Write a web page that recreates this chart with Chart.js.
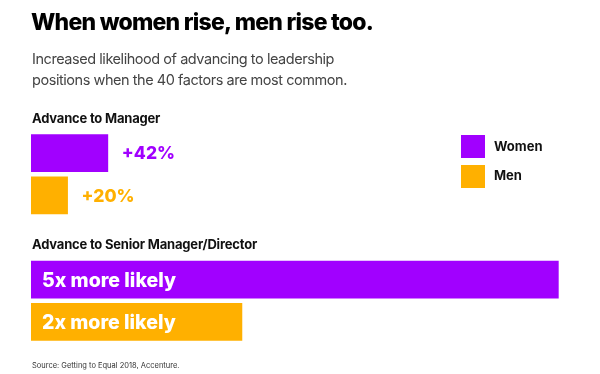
<!DOCTYPE html>
<html>
<head>
<meta charset="utf-8">
<script src="https://cdn.jsdelivr.net/npm/chart.js@4.4.1/dist/chart.umd.min.js"></script>
<style>
  html, body { margin: 0; padding: 0; background: #fff; }
  #wrap { position: relative; width: 600px; height: 374px; overflow: hidden; font-family: Inter, "Noto Sans", sans-serif; }
  #c { position: absolute; left: 0; top: 0; }
  .t { position: absolute; white-space: nowrap; }
  #title { left: 31px; top: 8px; font-size: 23px; font-weight: 800; color: #000; letter-spacing: -0.75px; }
  #sub { left: 32px; top: 48px; font-size: 14.5px; line-height: 21px; color: #444; letter-spacing: -0.45px; }
  .head { left: 32px; font-size: 13px; font-weight: 700; color: #111; letter-spacing: -0.2px; }
  .sw { position: absolute; left: 461px; width: 24px; height: 23px; }
  .lg { left: 494px; font-size: 13px; font-weight: 700; color: #111; }
  #src { left: 32px; top: 361px; font-size: 7.5px; color: #333; }
</style>
</head>
<body>
<div id="wrap">
  <canvas id="c" width="600" height="374"></canvas>
  <div class="t" id="title">When women rise, men rise too.</div>
  <div class="t" id="sub">Increased likelihood of advancing to leadership<br>positions when the 40 factors are most common.</div>
  <div class="t head" id="h0" style="top:110px"></div>
  <div class="t head" id="h1" style="top:236px"></div>
  <div class="sw" id="sw0" style="top:135px"></div>
  <div class="sw" id="sw1" style="top:165px"></div>
  <div class="t lg" id="lg0" style="top:138px"></div>
  <div class="t lg" id="lg1" style="top:167px"></div>
  <div class="t" id="src">Source: Getting to Equal 2018, Accenture.</div>
</div>
<script>
const groups = ['Advance to Manager', 'Advance to Senior Manager/Director'];
const series = ['Women', 'Men'];
const managerPct = [42, 20];          // Women, Men
const seniorMult = [5, 2];            // Women, Men
const managerLabels = ['+42%', '+20%'];
const seniorLabels = ['5x more likely', '2x more likely'];
const colors = ['#A100FF', '#FFB000'];

// text for headings and legend
document.getElementById('h0').textContent = groups[0];
document.getElementById('h1').textContent = groups[1];
series.forEach((s, i) => {
  document.getElementById('lg' + i).textContent = s;
  document.getElementById('sw' + i).style.background = colors[i];
});

const categories = [
  groups[0] + ' – ' + series[0], groups[0] + ' – ' + series[1], '',
  groups[1] + ' – ' + series[0], groups[1] + ' – ' + series[1]
];

const labelPlugin = {
  id: 'barLabels',
  afterDatasetsDraw(chart) {
    const ctx = chart.ctx;
    ctx.save();
    ctx.textBaseline = 'middle';
    // Manager: label to the right of bar, coloured
    const m0 = chart.getDatasetMeta(0);
    ctx.font = '800 17.5px Inter, "Noto Sans", sans-serif';
    managerLabels.forEach((txt, i) => {
      const el = m0.data[i];
      ctx.fillStyle = colors[i];
      ctx.fillText(txt, el.x + 14, el.y + 1);
    });
    // Senior: label inside bar, white
    const m1 = chart.getDatasetMeta(1);
    ctx.font = '800 19.5px Inter, "Noto Sans", sans-serif';
    seniorLabels.forEach((txt, i) => {
      const el = m1.data[i + 3];
      ctx.fillStyle = '#fff';
      ctx.fillText(txt, el.base + 11, el.y + 1);
    });
    ctx.restore();
  }
};

new Chart(document.getElementById('c'), {
  type: 'bar',
  data: {
    labels: categories,
    datasets: [
      {
        label: groups[0],
        data: [managerPct[0], managerPct[1], null, null, null],
        backgroundColor: [colors[0], colors[1], null, null, null],
        xAxisID: 'xm',
        grouped: false,
        barThickness: 37,
        borderWidth: 0
      },
      {
        label: groups[1],
        data: [null, null, null, seniorMult[0], seniorMult[1]],
        backgroundColor: [null, null, null, colors[0], colors[1]],
        xAxisID: 'xs',
        grouped: false,
        barThickness: 37,
        borderWidth: 0
      }
    ]
  },
  options: {
    indexAxis: 'y',
    responsive: false,
    animation: false,
    devicePixelRatio: 1,
    layout: { padding: { left: 31, right: 10, top: 132, bottom: 31 } },
    scales: {
      y: { display: false },
      xm: { type: 'linear', axis: 'x', min: 0, max: 305.5, display: false },
      xs: { type: 'linear', axis: 'x', min: 0, max: 5.3, display: false }
    },
    plugins: {
      legend: { display: false },
      tooltip: { enabled: false }
    }
  },
  plugins: [labelPlugin]
});
</script>
</body>
</html>
